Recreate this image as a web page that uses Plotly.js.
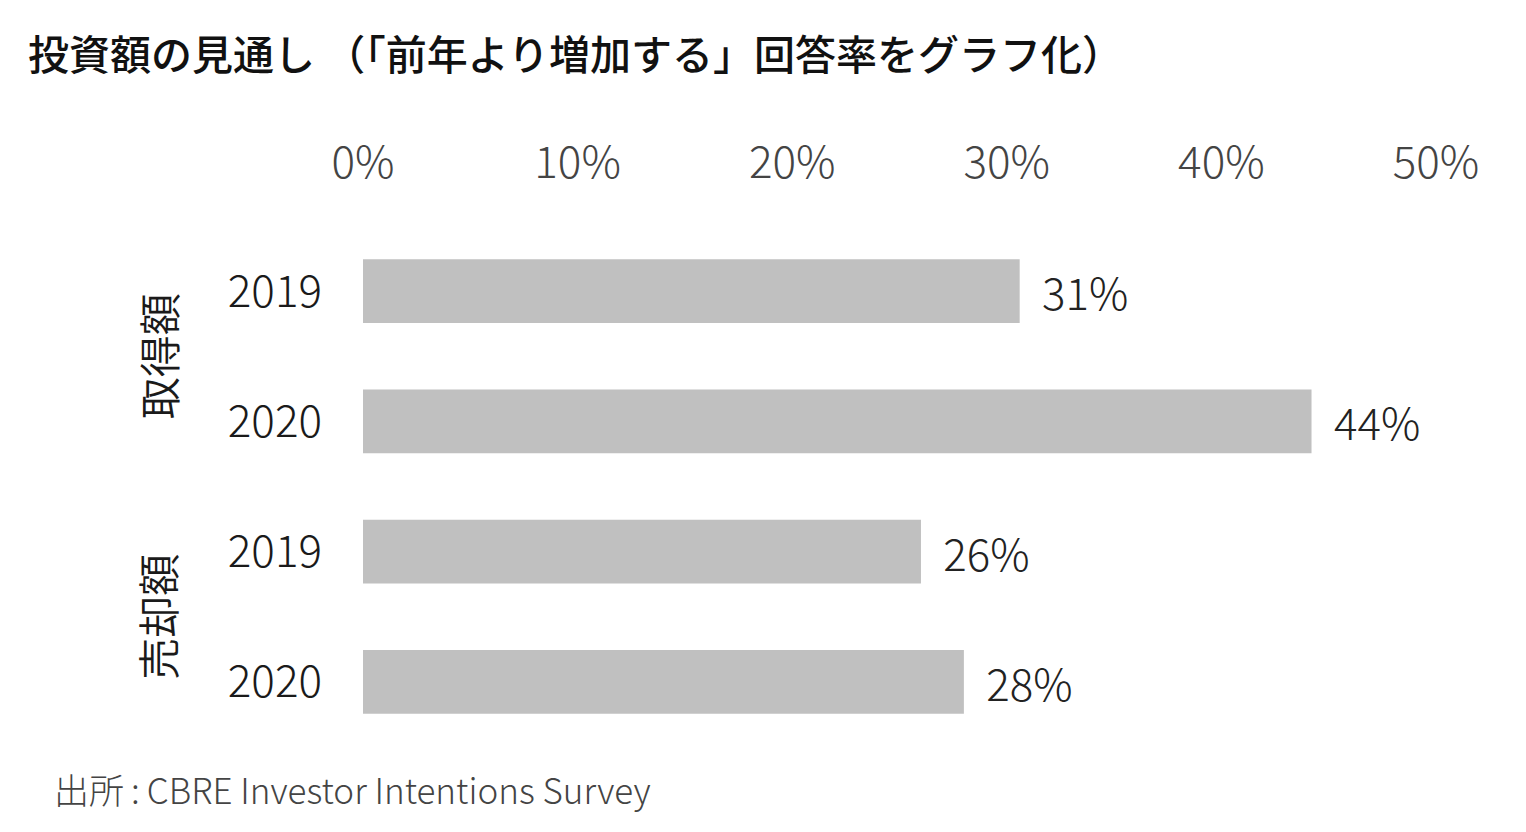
<!DOCTYPE html>
<html>
<head>
<meta charset="utf-8">
<script src="https://cdn.plot.ly/plotly-3.0.1.min.js"></script>
<style>html,body{margin:0;padding:0;background:#fff;}#chart{width:1526px;height:832px;}</style>
</head>
<body>
<div id="chart"></div>
<script>
// ---- data ----
var groups = ['取得額', '取得額', '売却額', '売却額'];
var years = ['2019', '2020', '2019', '2020'];
var values = [30.6, 44.2, 26, 28];
var xTickVals = [0, 10, 20, 30, 40, 50];
var xTickText = ['0%', '10%', '20%', '30%', '40%', '50%'];
var groupNames = ['取得額', '売却額'];
var titleText = '投資額の見通し （「前年より増加する」回答率をグラフ化）';
var sourceText = '出所\u2009:\u2009CBRE Investor Intentions Survey';

var cats = groups.map(function (g, i) { return g + ' ' + years[i]; });
var FONT = 'Noto Sans CJK JP, Noto Sans, sans-serif';

var trace = {
  type: 'bar',
  orientation: 'h',
  x: values,
  y: cats,
  width: 0.49,
  marker: {color: '#c0c0c0', line: {width: 0}},
  texttemplate: '\u00a0\u00a0%{x:.0f}%',
  textposition: 'outside',
  cliponaxis: false,
  textfont: {family: FONT, size: 44, color: '#222222', weight: 300},
  hoverinfo: 'skip'
};

// group label annotations centred between their two bars
var annotations = groupNames.map(function (name) {
  var idx = [];
  groups.forEach(function (g, i) { if (g === name) idx.push(i); });
  return {
    xref: 'paper', yref: 'y',
    x: 0, y: (idx[0] + idx[idx.length - 1]) / 2,
    xshift: -206,
    text: name, showarrow: false, textangle: -90,
    font: {family: FONT, size: 42, color: '#1a1a1a', weight: 350},
    xanchor: 'center', yanchor: 'middle'
  };
});
annotations.push({
  xref: 'paper', yref: 'paper', x: -0.29, y: -0.027,
  xanchor: 'left', yanchor: 'top', showarrow: false,
  text: sourceText,
  font: {family: FONT, size: 35, color: '#444444', weight: 300}
});

var layout = {
  width: 1526, height: 832,
  paper_bgcolor: '#ffffff', plot_bgcolor: '#ffffff',
  margin: {l: 363, r: 90, t: 226, b: 85},
  showlegend: false,
  title: {
    text: titleText, x: 28 / 1526, xref: 'container', xanchor: 'left',
    y: 1 - 56 / 832, yref: 'container', yanchor: 'middle',
    font: {family: FONT, size: 41, color: '#111111', weight: 500}
  },
  xaxis: {
    side: 'top', range: [0, 50], tickvals: xTickVals, ticktext: xTickText,
    showgrid: false, zeroline: false, showline: false, ticks: '',
    ticklabelstandoff: 38,
    tickfont: {family: FONT, size: 44, color: '#444444', weight: 300},
    fixedrange: true
  },
  yaxis: {
    type: 'category', categoryorder: 'array', categoryarray: cats,
    autorange: 'reversed', tickvals: cats, ticktext: years,
    showgrid: false, zeroline: false, showline: false, ticks: '',
    ticklabelstandoff: 40,
    tickfont: {family: FONT, size: 44, color: '#1a1a1a', weight: 300},
    fixedrange: true
  },
  annotations: annotations
};

Plotly.newPlot('chart', [trace], layout, {displayModeBar: false, staticPlot: true});
</script>
</body>
</html>
